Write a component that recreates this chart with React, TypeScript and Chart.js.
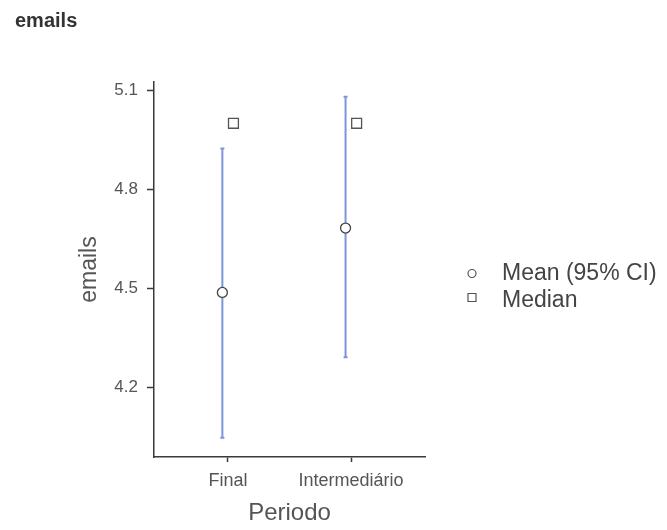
import { useEffect, useRef } from 'react';
import { Chart, registerables } from 'chart.js';

Chart.register(...registerables);

// ---- data ----
const categories = ['Final', 'Intermediário'];
const means = [4.488, 4.683];
const ciLower = [4.048, 4.292];
const ciUpper = [4.924, 5.08];
const medians = [5.0, 5.0];
const yTicks = [4.2, 4.5, 4.8, 5.1];
const legendLabels = ['Mean (95% CI)', 'Median'];

// ---- styles ----
const DODGE = 0.045;
const BAR_COLOR = '#7a95d9';
const AXIS_COLOR = '#3a3a3a';
const TEXT_COLOR = '#555555';
const FONT = '"Liberation Sans", Arial, sans-serif';

const errorBarsPlugin = {
  id: 'errorBars',
  beforeDatasetsDraw(chart: any) {
    const { ctx, scales } = chart;
    const x = scales.x;
    const y = scales.y;
    ctx.save();
    ctx.strokeStyle = BAR_COLOR;
    ctx.lineWidth = 2;
    categories.forEach((_, i) => {
      const px = x.getPixelForValue(i - DODGE);
      const top = y.getPixelForValue(ciUpper[i]);
      const bot = y.getPixelForValue(ciLower[i]);
      ctx.beginPath();
      ctx.moveTo(px, top);
      ctx.lineTo(px, bot);
      ctx.moveTo(px - 2, top);
      ctx.lineTo(px + 2, top);
      ctx.moveTo(px - 2, bot);
      ctx.lineTo(px + 2, bot);
      ctx.stroke();
    });
    ctx.restore();
  },
};

const legendPlugin = {
  id: 'customLegend',
  afterDraw(chart: any) {
    const { ctx, chartArea } = chart;
    const mx = chartArea.right + 47;
    const tx = chartArea.right + 77;
    const y0 = (chartArea.top + chartArea.bottom) / 2 + 4;
    const markerGap = 24;
    const textGap = 27;
    ctx.save();
    ctx.strokeStyle = '#555';
    ctx.fillStyle = '#fff';
    ctx.lineWidth = 1.2;
    // circle
    ctx.beginPath();
    ctx.arc(mx, y0, 4, 0, Math.PI * 2);
    ctx.fill();
    ctx.stroke();
    // square
    ctx.beginPath();
    ctx.rect(mx - 4, y0 + markerGap - 4, 8, 8);
    ctx.fill();
    ctx.stroke();
    ctx.fillStyle = '#444';
    ctx.font = `23px ${FONT}`;
    ctx.textBaseline = 'middle';
    ctx.textAlign = 'left';
    legendLabels.forEach((t, i) => ctx.fillText(t, tx, y0 + i * textGap));
    ctx.restore();
  },
};

export default function App() {
  const ref = useRef<HTMLCanvasElement>(null);

  useEffect(() => {
    if (!ref.current) return;
    const chart = new Chart(ref.current, {
      type: 'scatter',
      data: {
        datasets: [
          {
            label: legendLabels[1],
            data: categories.map((_, i) => ({ x: i + DODGE, y: medians[i] })),
            pointStyle: 'rect',
            pointRadius: 7,
            backgroundColor: '#ffffff',
            borderColor: '#555555',
            borderWidth: 1.3,
          },
          {
            label: legendLabels[0],
            data: categories.map((_, i) => ({ x: i - DODGE, y: means[i] })),
            pointStyle: 'circle',
            pointRadius: 5,
            backgroundColor: '#ffffff',
            borderColor: '#444444',
            borderWidth: 1.3,
          },
        ],
      },
      options: {
        responsive: false,
        animation: false,
        events: [],
        layout: { padding: { left: 15, right: 242, top: 0, bottom: 0 } },
        plugins: {
          legend: { display: false },
          tooltip: { enabled: false },
          title: {
            display: true,
            text: 'emails',
            align: 'start',
            color: '#333',
            font: { family: FONT, size: 20, weight: 'bold' },
            padding: { top: 9, bottom: 49 },
          },
        },
        scales: {
          x: {
            type: 'linear',
            min: -0.6,
            max: 1.6,
            afterBuildTicks: (scale: any) => {
              scale.ticks = categories.map((_, i) => ({ value: i }));
            },
            afterFit: (scale: any) => {
              scale.height = 73;
            },
            ticks: {
              callback: (v: any) => categories[v as number] ?? '',
              color: TEXT_COLOR,
              font: { family: FONT, size: 18 },
              padding: 8,
              autoSkip: false,
              maxRotation: 0,
            },
            grid: {
              drawOnChartArea: false,
              tickLength: 5,
              tickColor: AXIS_COLOR,
              tickWidth: 1.5,
            },
            border: { color: AXIS_COLOR, width: 1.5 },
            title: {
              display: true,
              text: 'Periodo',
              color: TEXT_COLOR,
              font: { family: FONT, size: 24 },
              padding: { top: 0, bottom: 2 },
            },
          },
          y: {
            type: 'linear',
            min: 3.99,
            max: 5.125,
            afterBuildTicks: (scale: any) => {
              scale.ticks = yTicks.map((v) => ({ value: v }));
            },
            afterFit: (scale: any) => {
              scale.width = 139;
            },
            ticks: {
              callback: (v: any) => Number(v).toFixed(1),
              color: TEXT_COLOR,
              font: { family: FONT, size: 17 },
              padding: 9,
            },
            grid: {
              drawOnChartArea: false,
              tickLength: 7,
              tickColor: AXIS_COLOR,
              tickWidth: 1.5,
            },
            border: { color: AXIS_COLOR, width: 1.5 },
            title: {
              display: true,
              text: 'emails',
              color: TEXT_COLOR,
              font: { family: FONT, size: 23 },
              padding: { top: 61, bottom: 0 },
            },
          },
        },
      },
      plugins: [errorBarsPlugin, legendPlugin],
    });
    return () => chart.destroy();
  }, []);

  return (
    <div style={{ position: 'absolute', left: 0, top: 0, width: 667, height: 530, background: '#fff' }}>
      <canvas ref={ref} width={667} height={530} style={{ display: 'block' }} />
    </div>
  );
}
